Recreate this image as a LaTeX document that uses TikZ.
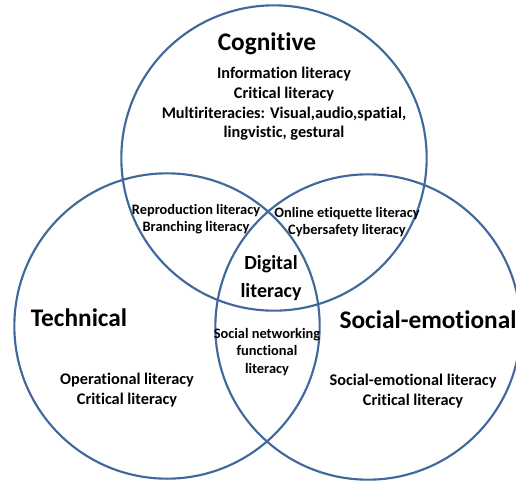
\documentclass[tikz,border=0pt]{standalone}
\usepackage{fontspec}
\setmainfont{Carlito}[Ligatures=NoCommon]
\usepackage{tikz}
\definecolor{vennblue}{HTML}{41689A}

\begin{document}
\begin{tikzpicture}[x=0.75pt,y=-0.75pt,
  ring/.style={circle,draw=vennblue,line width=1.6pt,minimum size=229pt,inner sep=0pt},
  head/.style={font=\fontsize{19}{22}\selectfont\bfseries},
  core/.style={font=\fontsize{15}{21}\selectfont\bfseries,align=center},
  items/.style={font=\fontsize{12.2}{14.8}\selectfont\bfseries,align=center},
  pair/.style={font=\fontsize{10.8}{13}\selectfont\bfseries,align=center}]

\useasboundingbox (0,0) rectangle (516,480);
\clip (0,0) rectangle (516,480);

% ---- the three circles -------------------------------------------------
\node[ring] (cog) at (274,158) {};
\node[ring] (tec) at (167,326) {};
\node[ring] (soc) at (368,327) {};

% ---- circle titles -----------------------------------------------------
\node[head] (tcog) at (267,44)  {Cognitive};
\node[head] (ttec) at (79,318)  {Technical};
\node[head] (tsoc) at (428,320) {Social-emotional};

% ---- what each circle holds on its own ---------------------------------
\node[items] (lcog) at (284,104) {Information literacy\\Critical literacy\\Multiriteracies: Visual,audio,spatial,\\lingvistic, gestural};
\node[items] (ltec) at (127,390) {Operational literacy\\Critical literacy};
\node[items] (lsoc) at (413,391) {Social-emotional literacy\\Critical literacy};

% ---- the overlaps ------------------------------------------------------
\node[pair] (cogtec) at (196,219) {Reproduction literacy\\Branching literacy};
\node[pair] (cogsoc) at (347,222) {Online etiquette literacy\\Cybersafety literacy};
\node[pair] (tecsoc) at (267,352) {Social networking\\functional\\literacy};
\node[core] (dig)    at (271,278) {Digital\\literacy};
\end{tikzpicture}
\end{document}
